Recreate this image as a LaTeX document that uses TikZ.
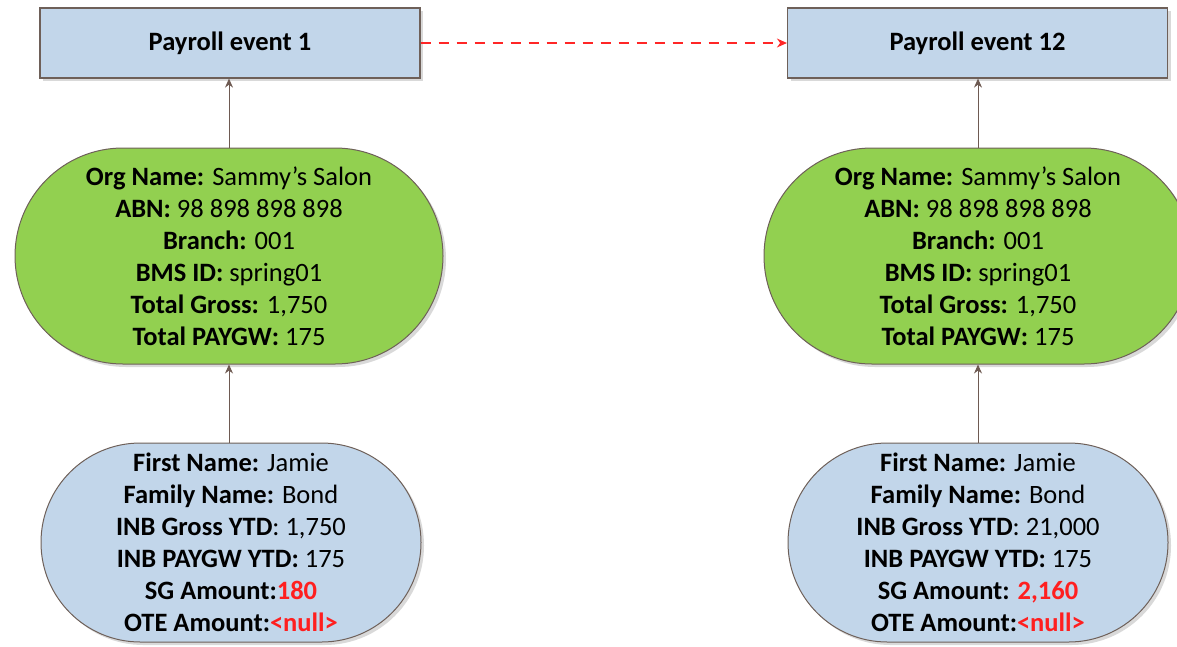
\documentclass[tikz,border=0pt]{standalone}
\usepackage{fontspec}
\setmainfont{Carlito}
\usetikzlibrary{arrows.meta,shadows}
\definecolor{boxblue}{HTML}{C2D6EA}
\definecolor{ovgreen}{HTML}{92D050}
\definecolor{edgec}{HTML}{6E6059}
\definecolor{arrc}{HTML}{6E5A52}
\definecolor{redtxt}{HTML}{FF1F1F}
\tikzset{
  shad/.style={drop shadow={shadow xshift=3pt,shadow yshift=-3pt,fill=black!25,opacity=0.6}},
  evbox/.style={draw=edgec,line width=1.2pt,fill=boxblue,minimum width=380pt,minimum height=70pt,inner sep=0pt,shad,font=\fontsize{26.5}{30}\selectfont\bfseries},
  orgov/.style={draw=edgec,line width=1pt,fill=ovgreen,minimum width=428pt,minimum height=216pt,rounded corners=107.9pt,inner sep=0pt,align=center,shad,font=\fontsize{26.5}{32}\selectfont},
  empov/.style={draw=edgec,line width=1pt,fill=boxblue,minimum width=380pt,minimum height=199pt,rounded corners=99.4pt,inner sep=0pt,align=center,shad,font=\fontsize{26.5}{32}\selectfont},
  uparr/.style={draw=arrc,line width=1pt,-{Stealth[length=9pt,width=8pt]}},
  dasharr/.style={draw=red!85,line width=1.3pt,dash pattern=on 10pt off 8pt,-{Stealth[length=10pt,width=9pt]}}
}
\newcommand{\rt}[1]{\textcolor{redtxt}{\textbf{#1}}}
\begin{document}
\begin{tikzpicture}[x=1pt,y=1pt]
\useasboundingbox (0,0) rectangle (1177,-646);
\node[evbox] (ev1) at (230,-43) {Payroll event 1};
\node[evbox] (ev12) at (977.5,-43) {Payroll event 12};
\node[orgov] (org1) at (229,-256) {\textbf{Org Name:} Sammy’s Salon\\\textbf{ABN:} 98 898 898 898\\\textbf{Branch:} 001\\\textbf{BMS ID:} spring01\\\textbf{Total Gross:} 1,750\\\textbf{Total PAYGW:} 175};
\node[orgov] (org12) at (978,-256) {\textbf{Org Name:} Sammy’s Salon\\\textbf{ABN:} 98 898 898 898\\\textbf{Branch:} 001\\\textbf{BMS ID:} spring01\\\textbf{Total Gross:} 1,750\\\textbf{Total PAYGW:} 175};
\node[empov] (emp1) at (231,-542.5) {\textbf{First Name:} Jamie\\\textbf{Family Name:} Bond\\\textbf{INB Gross YTD}: 1,750\\\textbf{INB PAYGW YTD:} 175\\\textbf{SG Amount:}\rt{180}\\\textbf{OTE Amount:}\rt{<null>}};
\node[empov] (emp12) at (978,-542.5) {\textbf{First Name:} Jamie\\\textbf{Family Name:} Bond\\\textbf{INB Gross YTD}: 21,000\\\textbf{INB PAYGW YTD:} 175\\\textbf{SG Amount:} \rt{2,160}\\\textbf{OTE Amount:}\rt{<null>}};
\draw[uparr] (emp1.north -| org1.south) -- (org1.south);
\draw[uparr] (org1.north) -- (org1.north |- ev1.south);
\draw[uparr] (emp12.north) -- (org12.south);
\draw[uparr] (org12.north) -- (org12.north |- ev12.south);
\draw[dasharr] (ev1.east) -- (ev12.west);
\end{tikzpicture}
\end{document}
